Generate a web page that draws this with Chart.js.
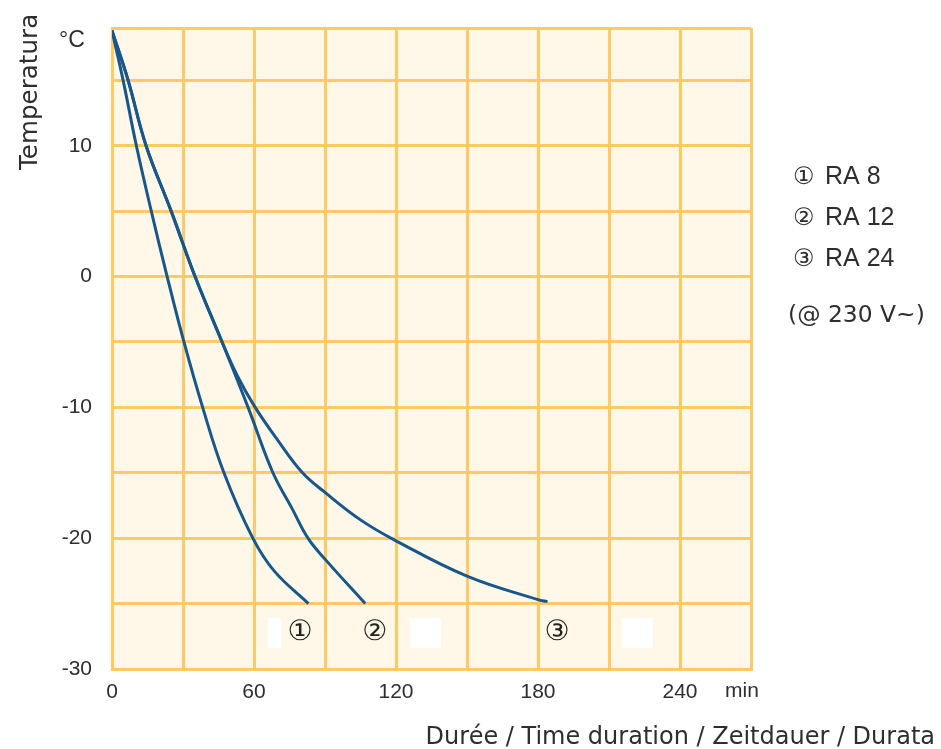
<!DOCTYPE html>
<html>
<head>
<meta charset="utf-8">
<script src="https://cdn.jsdelivr.net/npm/chart.js@4"></script>
<style>
  *{margin:0;padding:0}
  body{background:#fff;width:941px;height:749px;overflow:hidden}
</style>
</head>
<body>
<canvas id="chart" width="941" height="749"></canvas>
<script>
// cooling curves, time in min, temperature in °C
const timeRA8 = [0, 4.7, 10.3, 16.6, 23.3, 30.4, 38.3, 47.3, 59.5, 68.5, 83];
const tempRA8 = [18.8, 15, 10, 5, 0, -5, -10, -15, -20, -22.5, -25];

const timeRA12 = [0, 6.8, 14.4, 25, 35.1, 46.5, 57.5, 68, 76, 82.8, 90, 107];
const tempRA12 = [18.8, 15, 10, 5, 0, -5, -10, -15, -17.7, -20, -21.6, -25];

const timeRA24 = [0, 6.8, 14.4, 25, 35.1, 46.5, 53, 60.5, 70, 80.5, 90, 105, 120, 150, 180, 184];
const tempRA24 = [18.8, 15, 10, 5, 0, -5, -7.6, -10, -12.5, -15, -16.5, -18.6, -20.2, -22.9, -24.7, -24.85];

const seriesNames = ["RA 8", "RA 12", "RA 24"];
const seriesMarks = ["①", "②", "③"];
const markTime = [79.5, 111, 188];
const markTemp = -27.2;

const xTicks = [0, 30, 60, 90, 120, 150, 180, 210, 240, 270];
const xLabelTicks = [0, 60, 120, 180, 240];
const yTicks = [-30, -25, -20, -15, -10, -5, 0, 5, 10, 15, 19];
const yLabelTicks = [-30, -20, -10, 0, 10];

const GRID = "#ffc966";
const LINE = "#17578a";
const TEXT = "#2e2e2e";

const toPts = (xs, ys) => xs.map((x, i) => ({ x, y: ys[i] }));

function fitFont(ctx, text, family, width) {
  ctx.font = `100px ${family}`;
  const w = ctx.measureText(text).width;
  return `${(100 * width / w).toFixed(1)}px ${family}`;
}

const decor = {
  id: "decor",
  beforeDraw(chart) {
    const { ctx, chartArea: a } = chart;
    ctx.save();
    ctx.fillStyle = "#fff8e8";
    ctx.fillRect(a.left, a.top, a.right - a.left, a.bottom - a.top);
    ctx.restore();
  },
  afterDatasetsDraw(chart) {
    const { ctx, scales: { x, y } } = chart;
    ctx.save();
    // white patches left over in the original artwork
    ctx.fillStyle = "#fff";
    [[66, 71.5], [126, 139], [215.5, 228.5]].forEach(([t0, t1]) => {
      const x0 = x.getPixelForValue(t0), x1 = x.getPixelForValue(t1);
      const y0 = y.getPixelForValue(-26.1), y1 = y.getPixelForValue(-28.4);
      ctx.fillRect(x0, y0, x1 - x0, y1 - y0);
    });
    ctx.fillStyle = "#222";
    ctx.font = "28px 'DejaVu Sans'";
    ctx.textAlign = "center";
    ctx.textBaseline = "middle";
    seriesMarks.forEach((m, i) => {
      ctx.fillText(m, x.getPixelForValue(markTime[i]), y.getPixelForValue(markTemp));
    });
    ctx.restore();
  },
  afterDraw(chart) {
    const { ctx } = chart;
    ctx.save();
    ctx.fillStyle = TEXT;
    ctx.textBaseline = "alphabetic";

    ctx.font = "23px 'Liberation Sans'";
    ctx.textAlign = "left";
    ctx.fillText("°C", 59, 47);
    ctx.font = "21px 'Liberation Sans'";
    ctx.fillText("min", 725, 697);

    // y title, rotated
    ctx.save();
    ctx.translate(37, 170);
    ctx.rotate(-Math.PI / 2);
    ctx.font = fitFont(ctx, "Temperatura", "'DejaVu Sans'", 156);
    ctx.fillText("Temperatura", 0, 0);
    ctx.restore();

    // x title
    const xt = "Durée / Time duration / Zeitdauer / Durata";
    ctx.font = fitFont(ctx, xt, "'DejaVu Sans'", 510);
    ctx.textAlign = "right";
    ctx.fillText(xt, 935, 744);

    // legend on the right
    ctx.textAlign = "left";
    seriesNames.forEach((n, i) => {
      ctx.font = "24px 'DejaVu Sans'";
      ctx.fillText(seriesMarks[i], 793, 184 + i * 41);
      ctx.font = "25px 'Liberation Sans'";
      ctx.fillText(n, 825, 184 + i * 41);
    });
    ctx.font = fitFont(ctx, "(@ 230 V~)", "'DejaVu Sans'", 137);
    ctx.fillText("(@ 230 V~)", 788, 322);
    ctx.restore();
  }
};

const mkSet = (label, xs, ys) => ({
  label, data: toPts(xs, ys), showLine: true, fill: false,
  borderColor: LINE, borderWidth: 3, pointRadius: 0,
  tension: 0.4
});

new Chart(document.getElementById("chart"), {
  type: "scatter",
  data: {
    datasets: [
      mkSet(seriesNames[0], timeRA8, tempRA8),
      mkSet(seriesNames[1], timeRA12, tempRA12),
      mkSet(seriesNames[2], timeRA24, tempRA24),
    ]
  },
  options: {
    responsive: false, animation: false, devicePixelRatio: 1,
    layout: { padding: { left: 0, top: 28, right: 190, bottom: 0 } },
    plugins: { legend: { display: false }, tooltip: { enabled: false } },
    scales: {
      x: {
        type: "linear", min: 0, max: 270,
        afterBuildTicks: s => { s.ticks = xTicks.map(v => ({ value: v })); },
        afterFit: s => { s.height = 80; s.paddingLeft = 0; s.paddingRight = 0; },
        grid: { color: GRID, lineWidth: 3, drawTicks: false },
        border: { display: true, color: GRID, width: 3 },
        ticks: {
          autoSkip: false, maxRotation: 0, padding: 11, color: TEXT,
          font: { family: "'Liberation Sans'", size: 21 },
          callback: v => xLabelTicks.includes(v) ? String(v) : ""
        }
      },
      y: {
        type: "linear", min: -30, max: 19,
        afterBuildTicks: s => { s.ticks = yTicks.map(v => ({ value: v })); },
        afterFit: s => { s.width = 112; s.paddingTop = 0; s.paddingBottom = 0; },
        grid: { color: GRID, lineWidth: 3, drawTicks: false },
        border: { display: true, color: GRID, width: 3 },
        ticks: {
          autoSkip: false, padding: 20, color: TEXT,
          font: { family: "'Liberation Sans'", size: 21 },
          callback: v => yLabelTicks.includes(v) ? String(v) : ""
        }
      }
    }
  },
  plugins: [decor]
});
</script>
</body>
</html>
